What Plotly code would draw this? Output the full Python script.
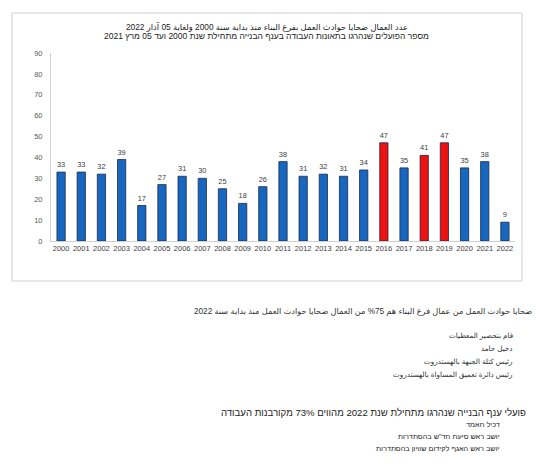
import plotly.graph_objects as go

years = [str(y) for y in range(2000, 2023)]
victims = [33, 33, 32, 39, 17, 27, 31, 30, 25, 18, 26, 38, 31, 32, 31, 34, 47, 35, 41, 47, 35, 38, 9]
highlight_years = ["2016", "2018", "2019"]

title_ar = "عدد العمال ضحايا حوادث العمل بفرع البناء منذ بداية سنة 2000 ولغاية 05 آذار 2022"
title_he = "מספר הפועלים שנהרגו בתאונות העבודה בענף הבנייה מתחילת שנת 2000 ועד 05 מרץ 2021"
note_ar = "ضحايا حوادث العمل من عمال فرع البناء هم 75% من العمال ضحايا حوادث العمل منذ بداية سنة 2022"
block_ar = ["قام بتحضير المعطيات", "دخيل حامد", "رئيس كتلة الجبهة بالهستدروت", "رئيس دائرة تعميق المساواة بالهستدروت"]
note_he = "פועלי ענף הבנייה שנהרגו מתחילת שנת 2022 מהווים 73% מקורבנות העבודה"
block_he = ["דכיל חאמד", "יושב ראש סיעת חד\"ש בהסתדרות", "יושב ראש האגף לקידום שוויון בהסתדרות"]

W, H = 540, 467
L, R, T, B = 51, 515, 53, 241

def px(x):
    return (x - L) / (R - L)

def py(y):
    return (B - y) / (B - T)

BLUE = "#1766BF"
RED = "#EE1111"
NARROW = "Liberation Sans Narrow, Liberation Sans, Arial"
colors = [RED if y in highlight_years else BLUE for y in years]

fig = go.Figure(go.Bar(
    x=years, y=victims,
    marker=dict(color=colors, line=dict(color="#1b2a44", width=0.8)),
    text=[str(v) for v in victims], textposition="outside",
    textfont=dict(size=7.5, color="#404040", family=NARROW),
    cliponaxis=False,
    width=0.41,
))

fig.update_layout(
    width=W, height=H,
    margin=dict(l=L, r=W - R, t=T, b=H - B),
    paper_bgcolor="white", plot_bgcolor="white",
    showlegend=False,
    font=dict(family="Liberation Sans, DejaVu Sans, Arial", color="#222"),
)
fig.update_yaxes(range=[0, 90], dtick=10, showgrid=False, zeroline=False,
                 showline=True, linecolor="#d0d0d0", linewidth=1,
                 ticks="", ticklabelstandoff=6,
                 tickfont=dict(size=7.5, color="#595959", family=NARROW))
fig.update_xaxes(type="category", showgrid=False, showline=True, linecolor="#d0d0d0", linewidth=1,
                 ticks="", tickangle=0,
                 tickfont=dict(size=7.5, color="#404040", family=NARROW))

# chart frame
fig.add_shape(type="rect", xref="paper", yref="paper",
              x0=px(12), x1=px(522), y0=py(281), y1=py(13),
              line=dict(color="#cfcfcf", width=1), fillcolor="rgba(0,0,0,0)", layer="below")

ann = []
ann.append(dict(text=title_ar, x=px(267), y=py(26), font=dict(size=8.3, color="#222"), xanchor="center"))
ann.append(dict(text=title_he, x=px(266), y=py(36.5), font=dict(size=8.5, color="#222"), xanchor="center"))
ann.append(dict(text=note_ar, x=px(534), y=py(311), font=dict(size=8.2, color="#333"), xanchor="right"))
for i, t in enumerate(block_ar):
    ann.append(dict(text=t, x=px(515), y=py(335 + 13.3 * i), font=dict(size=7.2, color="#333"), xanchor="right"))
ann.append(dict(text=note_he, x=px(528), y=py(412), font=dict(size=9.6, color="#222"), xanchor="right"))
for i, t in enumerate(block_he):
    ann.append(dict(text=t, x=px(502), y=py(424.5 + 12 * i), font=dict(size=7.3, color="#222"), xanchor="right"))
for a in ann:
    a.update(xref="paper", yref="paper", showarrow=False, yanchor="middle", align="right")
    fig.add_annotation(**a)

fig.write_html("out.html", config={"displayModeBar": False},
               post_script="document.body.style.margin='0';")
